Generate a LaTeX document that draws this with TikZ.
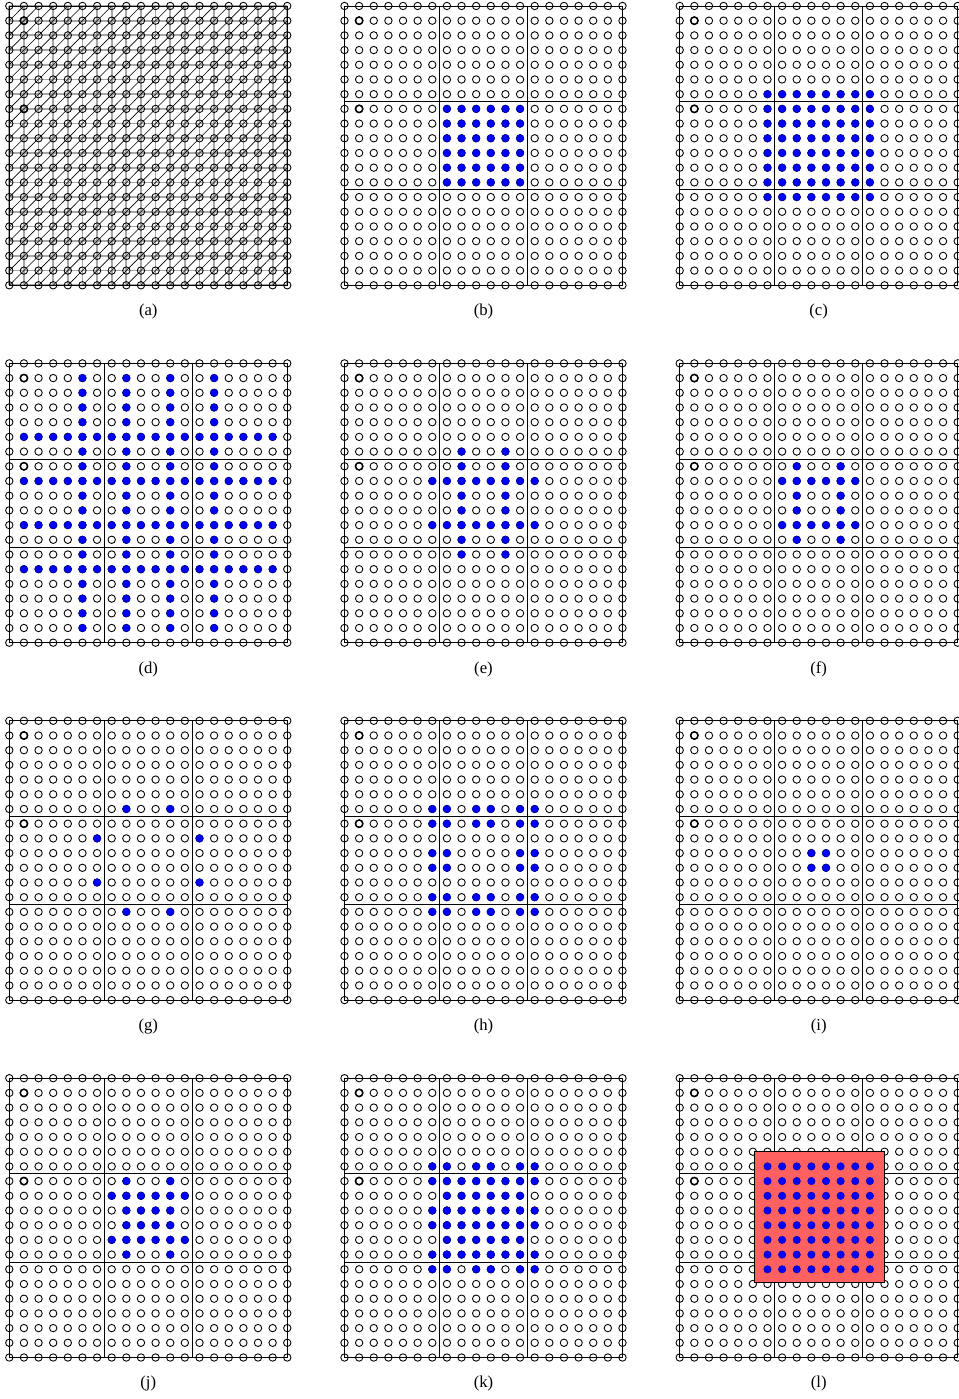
\documentclass[tikz,border=0pt]{standalone}
\usepackage{fontspec}
\setmainfont{Liberation Serif}

\newcommand{\cellx}{0.2926cm}
\newcommand{\celly}{0.2940cm}
\newcommand{\dotr}{0.074cm}
\tikzset{
  opendot/.style={draw=black, line width=0.5pt},
  bolddot/.style={draw=black, line width=0.85pt},
  bluedot/.style={fill=blue, draw=blue!70!black, line width=0.3pt},
  partline/.style={black, line width=0.45pt},
  meshline/.style={gray!70, line width=1pt},
  diagline/.style={black, line width=0.35pt},
  hotblock/.style={fill=red!62, draw=black, line width=0.4pt},
  panellabel/.style={font=\fontsize{9.5}{11}\selectfont, inner sep=0pt},
}
% 20x20 nodes of one panel
\newcommand{\opengrid}{%
  \foreach \i in {0,...,19}{\foreach \j in {0,...,19}{\draw[opendot] (\i,\j) circle[radius=\dotr];}}
  \draw[bolddot] (1,1) circle[radius=\dotr];
  \draw[bolddot] (1,7) circle[radius=\dotr];}
\newcommand{\partlines}{%
  \draw[partline] (0,0) rectangle (19,19);
  \draw[partline] (6.5,0) -- (6.5,19) (12.5,0) -- (12.5,19) (0,6.5) -- (19,6.5) (0,12.5) -- (19,12.5);}
\newcommand{\blockdots}[2]{\foreach \i in {#1}{\foreach \j in {#2}{\draw[bluedot] (\i,\j) circle[radius=\dotr];}}}

\begin{document}
\begin{tikzpicture}
  \useasboundingbox (0,0) rectangle (19.16,27.98);

  % (a) the full mesh
  \begin{scope}[shift={(0.186cm,27.86cm)}, x=\cellx, y=-\celly]
    \foreach \k in {0,...,19}{\draw[meshline] (0,\k) -- (19,\k); \draw[meshline] (\k,0) -- (\k,19);}
    \foreach \i in {0,...,18}{\foreach \j in {0,...,18}{\draw[diagline] (\i,\j+1) -- (\i+1,\j);}}
    \draw[partline] (0,0) rectangle (19,19);
    \opengrid
    \node[panellabel] (laba) at (9.5,20.8) {(a)};
  \end{scope}

  % (b)
  \begin{scope}[shift={(6.890cm,27.86cm)}, x=\cellx, y=-\celly]
    \partlines \opengrid
    \blockdots{7,...,12}{7,...,12}
    \node[panellabel] (labb) at (9.5,20.8) {(b)};
  \end{scope}

  % (c)
  \begin{scope}[shift={(13.594cm,27.86cm)}, x=\cellx, y=-\celly]
    \partlines \opengrid
    \blockdots{6,...,13}{6,...,13}
    \node[panellabel] (labc) at (9.5,20.8) {(c)};
  \end{scope}

  % (d)
  \begin{scope}[shift={(0.186cm,20.712cm)}, x=\cellx, y=-\celly]
    \partlines \opengrid
    \blockdots{5,8,11,14}{1,...,18}
    \blockdots{1,...,18}{5,8,11,14}
    \node[panellabel] (labd) at (9.5,20.8) {(d)};
  \end{scope}

  % (e)
  \begin{scope}[shift={(6.890cm,20.712cm)}, x=\cellx, y=-\celly]
    \partlines \opengrid
    \blockdots{8,11}{6,...,13}
    \blockdots{6,...,13}{8,11}
    \node[panellabel] (labe) at (9.5,20.8) {(e)};
  \end{scope}

  % (f)
  \begin{scope}[shift={(13.594cm,20.712cm)}, x=\cellx, y=-\celly]
    \partlines \opengrid
    \blockdots{8,11}{7,...,12}
    \blockdots{7,...,12}{8,11}
    \node[panellabel] (labf) at (9.5,20.8) {(f)};
  \end{scope}

  % (g)
  \begin{scope}[shift={(0.186cm,13.564cm)}, x=\cellx, y=-\celly]
    \partlines \opengrid
    \blockdots{8,11}{6,13}
    \blockdots{6,13}{8,11}
    \node[panellabel] (labg) at (9.5,20.8) {(g)};
  \end{scope}

  % (h)
  \begin{scope}[shift={(6.890cm,13.564cm)}, x=\cellx, y=-\celly]
    \partlines \opengrid
    \blockdots{6,7,9,10,12,13}{6,7,12,13}
    \blockdots{6,7,12,13}{9,10}
    \node[panellabel] (labh) at (9.5,20.8) {(h)};
  \end{scope}

  % (i)
  \begin{scope}[shift={(13.594cm,13.564cm)}, x=\cellx, y=-\celly]
    \partlines \opengrid
    \blockdots{9,10}{9,10}
    \node[panellabel] (labi) at (9.5,20.8) {(i)};
  \end{scope}

  % (j)
  \begin{scope}[shift={(0.186cm,6.416cm)}, x=\cellx, y=-\celly]
    \partlines \opengrid
    \blockdots{8,11}{7,...,12}
    \blockdots{7,...,12}{8,11}
    \blockdots{9,10}{9,10}
    \node[panellabel] (labj) at (9.5,20.8) {(j)};
  \end{scope}

  % (k)
  \begin{scope}[shift={(6.890cm,6.416cm)}, x=\cellx, y=-\celly]
    \partlines \opengrid
    \blockdots{6,7,9,10,12,13}{6,7,12,13}
    \blockdots{6,7,12,13}{9,10}
    \blockdots{7,...,12}{7,...,12}
    \node[panellabel] (labk) at (9.5,20.8) {(k)};
  \end{scope}

  % (l)
  \begin{scope}[shift={(13.594cm,6.416cm)}, x=\cellx, y=-\celly]
    \partlines \opengrid
    \draw[hotblock] (5.1,5) rectangle (14,13.9);
    \blockdots{6,...,13}{6,...,13}
    \node[panellabel] (labl) at (9.5,20.8) {(l)};
  \end{scope}
\end{tikzpicture}
\end{document}
